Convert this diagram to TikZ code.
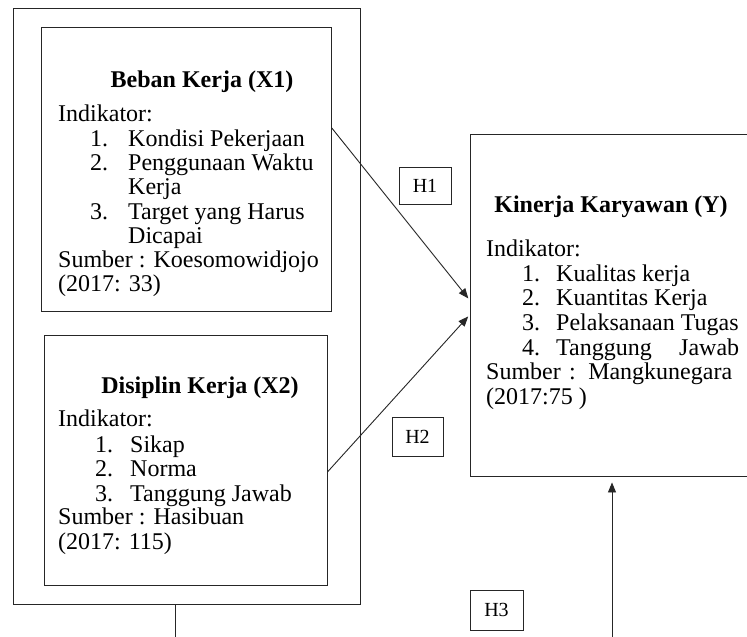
\documentclass[tikz,border=0pt]{standalone}
\usepackage{fontspec}
\setmainfont{Liberation Serif}
\usetikzlibrary{arrows.meta}
\begin{document}
\begin{tikzpicture}[x=1pt,y=-1pt,
  frame/.style={draw=black!85,line width=0.9pt,inner sep=0pt},
  txt/.style={anchor=base west,inner sep=0pt,font=\fontsize{24}{25}\selectfont},
  ttl/.style={anchor=base,inner sep=0pt,font=\fontsize{24}{25}\selectfont\bfseries},
  hbox/.style={draw=black!85,line width=0.9pt,inner sep=0pt,font=\fontsize{20}{22}\selectfont},
  conn/.style={draw=black!85,line width=0.9pt},
  arr/.style={conn,-{Triangle[length=10pt,width=8pt]}}]
\useasboundingbox (0,0) rectangle (747,637);
\clip (0,0) rectangle (747,637);
\fill[white] (0,0) rectangle (747,637);
% boxes
\node[frame,minimum width=347pt,minimum height=596pt] (outer) at (186.5,306) {};
\node[frame,minimum width=290pt,minimum height=284pt] (box1) at (186,169) {};
\node[frame,minimum width=283pt,minimum height=250pt] (box2) at (185.5,460) {};
\node[frame,minimum width=284pt,minimum height=342pt] (ky) at (612,305) {};
% box 1 text
\node[ttl] (b1t) at (202,87) {Beban Kerja (X1)};
\node[txt] (b1i) at (58,121) {Indikator:};
\node[txt] (b1n1) at (90,146) {1.};
\node[txt] (b1a) at (128,146) {Kondisi Pekerjaan};
\node[txt] (b1n2) at (90,170) {2.};
\node[txt] (b1b) at (128,170) {Penggunaan Waktu};
\node[txt] (b1b2) at (128,194) {Kerja};
\node[txt] (b1n3) at (90,219) {3.};
\node[txt] (b1c) at (128,219) {Target yang Harus};
\node[txt] (b1c2) at (128,243) {Dicapai};
\node[txt] (b1s) at (58,267) {Sumber : Koesomowidjojo};
\node[txt] (b1y) at (58,291) {(2017: 33)};
% box 2 text
\node[ttl] (b2t) at (200,393) {Disiplin Kerja (X2)};
\node[txt] (b2i) at (58,426) {Indikator:};
\node[txt] (b2n1) at (95,452) {1.};
\node[txt] (b2a) at (130,452) {Sikap};
\node[txt] (b2n2) at (95,476) {2.};
\node[txt] (b2b) at (130,476) {Norma};
\node[txt] (b2n3) at (95,501) {3.};
\node[txt] (b2c) at (130,501) {Tanggung Jawab};
\node[txt] (b2s) at (58,524) {Sumber : Hasibuan};
\node[txt] (b2y) at (58,549) {(2017: 115)};
% right box text
\node[ttl] (kyt) at (611,212) {Kinerja Karyawan (Y)};
\node[txt] (kyi) at (486,256) {Indikator:};
\node[txt] (kyn1) at (522,281) {1.};
\node[txt] (kya) at (556,281) {Kualitas kerja};
\node[txt] (kyn2) at (522,305) {2.};
\node[txt] (kyb) at (556,305) {Kuantitas Kerja};
\node[txt] (kyn3) at (522,330) {3.};
\node[txt] (kyc) at (556,330) {Pelaksanaan Tugas};
\node[txt] (kyn4) at (522,355) {4.};
\node[txt] (kyd) at (556,355) {\makebox[183pt][s]{Tanggung Jawab}};
\node[txt] (kys) at (486,379) {\makebox[246pt][s]{Sumber : Mangkunegara}};
\node[txt] (kyy) at (486,404) {(2017:75 )};
% hypothesis labels
\node[hbox,minimum width=52pt,minimum height=37pt] (h1) at (425,185.5) {H1};
\node[hbox,minimum width=51pt,minimum height=39pt] (h2) at (417.5,436.5) {H2};
\node[hbox,minimum width=53pt,minimum height=40pt] (h3) at (496.5,610) {H3};
% connectors
\draw[arr,shorten >=2pt] ([yshift=-101pt]box1.north east) -- ([yshift=5pt]ky.west);
\draw[arr,shorten >=2pt] ([yshift=-12pt]box2.east) -- ([yshift=-10pt]ky.west);
\coordinate (h3s) at (612,645);
\draw[arr] (h3s) -- ([yshift=-6pt]ky.south);
\coordinate (outs) at (175,645);
\draw[conn] ([xshift=-11.5pt]outer.south) -- (outs);
\end{tikzpicture}
\end{document}
